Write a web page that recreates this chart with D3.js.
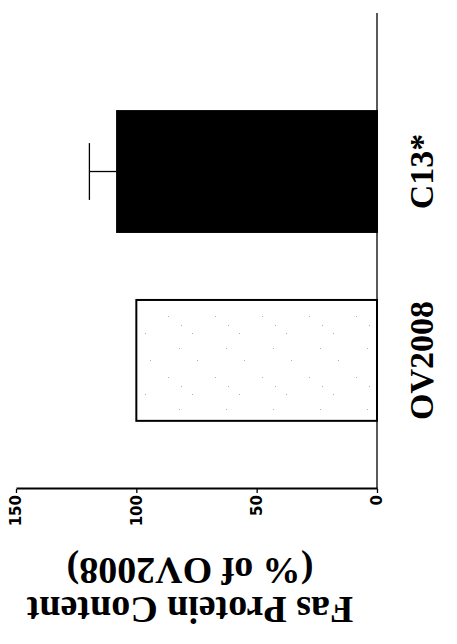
<!DOCTYPE html>
<html>
<head>
<meta charset="utf-8">
<script src="https://cdn.jsdelivr.net/npm/d3@7/dist/d3.min.js"></script>
<style>
  body { margin: 0; background: #fff; }
  svg { display: block; }
</style>
</head>
<body>
<div id="chart"></div>
<script>
// chart values
var categories = ["OV2008", "C13*"];
var values = [100, 108];
var errors = [0, 11.5];
var fills = ["url(#speckle)", "#000"];
var yTicks = [0, 50, 100, 150];
var titleLines = ["Fas Protein Content", "(% of OV2008)"];

var width = 457, height = 644;

var svg = d3.select("#chart").append("svg")
  .attr("width", width)
  .attr("height", height);

svg.append("rect").attr("width", width).attr("height", height).attr("fill", "#fff");

// faint stipple for the white bar (sparse scan noise)
var pat = svg.append("defs").append("pattern")
  .attr("id", "speckle")
  .attr("patternUnits", "userSpaceOnUse")
  .attr("width", 61).attr("height", 47);
pat.append("rect").attr("width", 61).attr("height", 47).attr("fill", "#fff");
[[6,9],[33,4],[50,27],[18,38],[41,40]].forEach(function(p) {
  pat.append("rect").attr("x", p[0]).attr("y", p[1])
    .attr("width", 1).attr("height", 1).attr("fill", "#b0b0b0");
});

// the figure is a normal column chart turned a quarter turn anticlockwise
var g = svg.append("g")
  .attr("transform", "translate(0,489) rotate(-90)");

var axisLen = 476;

var x = d3.scaleBand()
  .domain(categories)
  .range([0, axisLen])
  .paddingInner(0.36)
  .paddingOuter(0.44)
  .align(0.41);

var y = d3.scaleLinear()
  .domain([0, 150])
  .range([377, 16]);

// bars
g.selectAll("rect.bar")
  .data(categories)
  .enter().append("rect")
  .attr("class", "bar")
  .attr("x", function(d) { return x(d); })
  .attr("width", x.bandwidth())
  .attr("y", function(d, i) { return y(values[i]); })
  .attr("height", function(d, i) { return y(0) - y(values[i]); })
  .attr("fill", function(d, i) { return fills[i]; })
  .attr("stroke", "#000")
  .attr("stroke-width", 2);

// error bars (upper half only)
var eb = categories.map(function(c, i) { return {c: c, v: values[i], e: errors[i]}; })
  .filter(function(d) { return d.e > 0; });

g.selectAll("line.err")
  .data(eb)
  .enter().append("line")
  .attr("x1", function(d) { return x(d.c) + x.bandwidth() / 2; })
  .attr("x2", function(d) { return x(d.c) + x.bandwidth() / 2; })
  .attr("y1", function(d) { return y(d.v); })
  .attr("y2", function(d) { return y(d.v + d.e); })
  .attr("stroke", "#000").attr("stroke-width", 1.3);

g.selectAll("line.cap")
  .data(eb)
  .enter().append("line")
  .attr("x1", function(d) { return x(d.c) + x.bandwidth() * 0.265; })
  .attr("x2", function(d) { return x(d.c) + x.bandwidth() * 0.735; })
  .attr("y1", function(d) { return y(d.v + d.e); })
  .attr("y2", function(d) { return y(d.v + d.e); })
  .attr("stroke", "#000").attr("stroke-width", 1.3);

// baseline along the categories
g.append("line")
  .attr("x1", 0).attr("x2", axisLen)
  .attr("y1", y(0)).attr("y2", y(0))
  .attr("stroke", "#000").attr("stroke-width", 1.3);

// category labels
g.selectAll("text.cat")
  .data(categories)
  .enter().append("text")
  .attr("x", function(d) { return x(d) + x.bandwidth() / 2; })
  .attr("y", y(0) + 56)
  .attr("text-anchor", "middle")
  .attr("font-family", "'Liberation Serif', 'Times New Roman', serif")
  .attr("font-weight", "bold")
  .attr("font-size", 34)
  .text(function(d) { return d; });

// value axis
var yAxis = g.append("g")
  .call(d3.axisLeft(y).tickValues(yTicks).tickSize(4).tickSizeOuter(0).tickPadding(2));
yAxis.select(".domain").attr("stroke-width", 1.8);
yAxis.selectAll(".tick line").attr("stroke-width", 1.3);
yAxis.selectAll(".tick text")
  .attr("font-family", "'DejaVu Sans', sans-serif")
  .attr("font-weight", "bold")
  .attr("font-size", 15)
  .attr("fill", "#000");

// axis title, two lines
var title = g.append("text")
  .attr("transform", "translate(-108,190) rotate(-90)")
  .attr("text-anchor", "middle")
  .attr("font-family", "'Liberation Serif', 'Times New Roman', serif")
  .attr("font-weight", "bold")
  .attr("font-size", 38);
title.selectAll("tspan")
  .data(titleLines)
  .enter().append("tspan")
  .attr("x", 0)
  .attr("y", function(d, i) { return i * 39; })
  .text(function(d) { return d; });
</script>
</body>
</html>
